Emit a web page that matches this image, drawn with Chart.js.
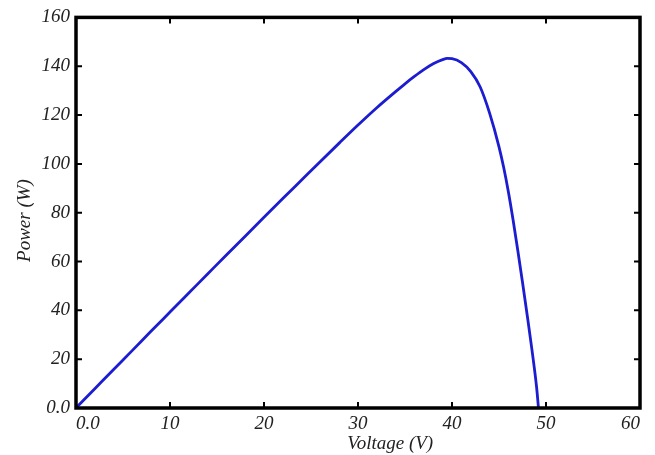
<!DOCTYPE html>
<html>
<head>
<meta charset="utf-8">
<script src="https://cdn.jsdelivr.net/npm/chart.js@4"></script>
<style>
  html, body { margin: 0; padding: 0; background: #fff; }
  #wrap { width: 655px; height: 455px; }
</style>
</head>
<body>
<div id="wrap"><canvas id="pvChart"></canvas></div>
<script>
// P-V curve
const voltage = [0, 2, 4, 6, 8, 10, 12, 14, 16, 18, 20, 22, 24, 26, 28, 30, 32, 34, 35, 36, 37, 38, 39, 39.5, 40,
                 41, 42, 43, 44, 45, 45.5, 46, 46.5, 47, 47.5, 48, 48.5, 49, 49.2];
const power = [0, 7.9, 15.8, 23.6, 31.5, 39.3, 47.1, 54.9, 62.7, 70.4, 78.1, 85.8, 93.4, 101, 108.5, 115.9, 123, 129.6, 132.8, 135.8, 138.6, 141, 142.7, 143.2, 143.1,
               141.5, 137.8, 131.5, 120.8, 107, 98.5, 88.5, 77, 64.5, 51.5, 38, 24, 8.5, 0];

const xTicks = [0, 10, 20, 30, 40, 50, 60];
const yTicks = [0, 20, 40, 60, 80, 100, 120, 140, 160];

const serif = '"Liberation Serif", "Times New Roman", serif';

// black frame, inward ticks and axis titles
const frame = {
    id: 'frame',
    afterDraw(chart) {
        const { ctx, chartArea: a, scales: { x, y } } = chart;
        ctx.save();
        ctx.strokeStyle = '#000';
        ctx.lineWidth = 2;
        ctx.beginPath();
        xTicks.slice(1, -1).forEach(v => {
            const px = x.getPixelForValue(v);
            ctx.moveTo(px, a.bottom); ctx.lineTo(px, a.bottom - 6);
            ctx.moveTo(px, a.top); ctx.lineTo(px, a.top + 6);
        });
        yTicks.slice(1, -1).forEach(v => {
            const py = y.getPixelForValue(v);
            ctx.moveTo(a.left, py); ctx.lineTo(a.left + 6, py);
            ctx.moveTo(a.right, py); ctx.lineTo(a.right - 6, py);
        });
        ctx.stroke();
        ctx.lineWidth = 3.5;
        ctx.strokeRect(a.left, a.top, a.right - a.left, a.bottom - a.top);

        ctx.fillStyle = '#222';
        ctx.font = 'italic 19px ' + serif;
        ctx.textAlign = 'center';
        ctx.textBaseline = 'alphabetic';
        ctx.fillText('Voltage (V)', a.left + (a.right - a.left) * 0.557, a.bottom + 41);

        ctx.translate(30, a.top + (a.bottom - a.top) * 0.52);
        ctx.rotate(-Math.PI / 2);
        ctx.fillText('Power (W)', 0, 0);
        ctx.restore();
    }
};

document.addEventListener('DOMContentLoaded', () => {
    const ctx = document.getElementById('pvChart').getContext('2d');

    new Chart(ctx, {
        type: 'scatter',
        data: {
            datasets: [{
                data: voltage.map((v, i) => ({ x: v, y: power[i] })),
                showLine: true,
                borderColor: '#1c1cd0',
                borderWidth: 2.8,
                pointRadius: 0,
                cubicInterpolationMode: 'monotone',
                clip: false
            }]
        },
        options: {
            responsive: true,
            maintainAspectRatio: false,
            animation: false,
            layout: { padding: { top: 10, right: 15, left: 0, bottom: 0 } },
            plugins: { legend: false, tooltip: { enabled: false } },
            scales: {
                x: {
                    type: 'linear',
                    min: 0,
                    max: 60,
                    afterFit: s => { s.height = 47; },
                    afterBuildTicks: s => { s.ticks = xTicks.map(v => ({ value: v })); },
                    grid: { display: false, drawTicks: false },
                    border: { display: false },
                    ticks: {
                        align: 'inner',
                        padding: 5,
                        color: '#222',
                        font: { family: serif, size: 19, style: 'italic' },
                        callback: v => v === 0 ? '0.0' : String(v)
                    }
                },
                y: {
                    min: 0,
                    max: 160,
                    afterFit: s => { s.width = 76; },
                    afterBuildTicks: s => { s.ticks = yTicks.map(v => ({ value: v })); },
                    grid: { display: false, drawTicks: false },
                    border: { display: false },
                    ticks: {
                        align: 'inner',
                        padding: 6,
                        color: '#222',
                        font: { family: serif, size: 19, style: 'italic' },
                        callback: v => v === 0 ? '0.0' : String(v)
                    }
                }
            }
        },
        plugins: [frame]
    });
});
</script>
</body>
</html>
